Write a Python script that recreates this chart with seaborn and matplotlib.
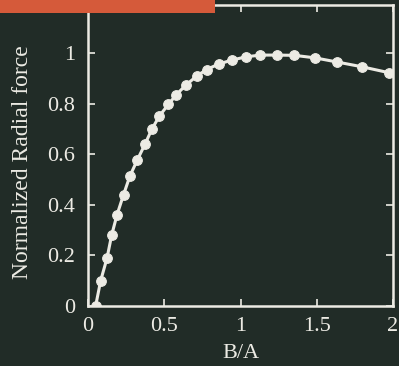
import matplotlib
matplotlib.use('Agg')
import matplotlib.pyplot as plt
import seaborn as sns
import pandas as pd
from matplotlib.patches import Rectangle

# values
ratio = [0.05, 0.083, 0.125, 0.155, 0.19, 0.233, 0.275, 0.323, 0.374, 0.418,
         0.468, 0.527, 0.58, 0.643, 0.713, 0.778, 0.859, 0.942, 1.036, 1.128,
         1.237, 1.353, 1.489, 1.63, 1.795, 1.976]
force = [0.0, 0.10, 0.19, 0.28, 0.36, 0.44, 0.514, 0.577, 0.64, 0.698,
         0.751, 0.797, 0.836, 0.874, 0.909, 0.935, 0.957, 0.972, 0.985, 0.992,
         0.992, 0.991, 0.981, 0.965, 0.946, 0.922]
xticks = [0, 0.5, 1, 1.5, 2]
xticklabels = ['0', '0.5', '1', '1.5', '2']
yticks = [0, 0.2, 0.4, 0.6, 0.8, 1]
yticklabels = ['0', '0.2', '0.4', '0.6', '0.8', '1']

bg = '#212c27'
fg = '#ecebe4'

sns.set_theme(style='ticks')
plt.rcParams['font.family'] = ['Liberation Serif', 'DejaVu Serif']

df = pd.DataFrame({'B/A': ratio, 'force': force})

fig = plt.figure(figsize=(3.99, 3.66), dpi=100, facecolor=bg)
ax = fig.add_axes([88 / 399, 1 - 306 / 366, 305 / 399, 301 / 366])
ax.set_facecolor(bg)

sns.lineplot(data=df, x='B/A', y='force', ax=ax, color=fg, linewidth=2.2,
             marker='o', markersize=7, markeredgecolor=fg)

ax.set_xlim(0, 2)
ax.set_ylim(0, 1.19)
ax.set_xticks(xticks)
ax.set_xticklabels(xticklabels)
ax.set_yticks(yticks)
ax.set_yticklabels(yticklabels)
ax.tick_params(direction='in', length=5, width=1.2, colors=fg, labelsize=16,
               top=True, right=True, pad=9)
ax.tick_params(axis='x', pad=8)
for s in ax.spines.values():
    s.set_visible(True)
    s.set_color(fg)
    s.set_linewidth(1.8)

ax.set_xlabel('B/A', color=fg, fontsize=16)
ax.set_ylabel('Normalized Radial force', color=fg, fontsize=17)
ax.xaxis.set_label_coords(0.5, -0.125)
ax.yaxis.set_label_coords(-0.18, 0.478)

# red band at the top left
fig.patches.append(Rectangle((0, 1 - 13 / 366), 215 / 399, 13 / 366,
                             transform=fig.transFigure, facecolor='#d55a3a',
                             edgecolor='none', zorder=5))

fig.savefig('out.png', dpi=100, facecolor=bg)
